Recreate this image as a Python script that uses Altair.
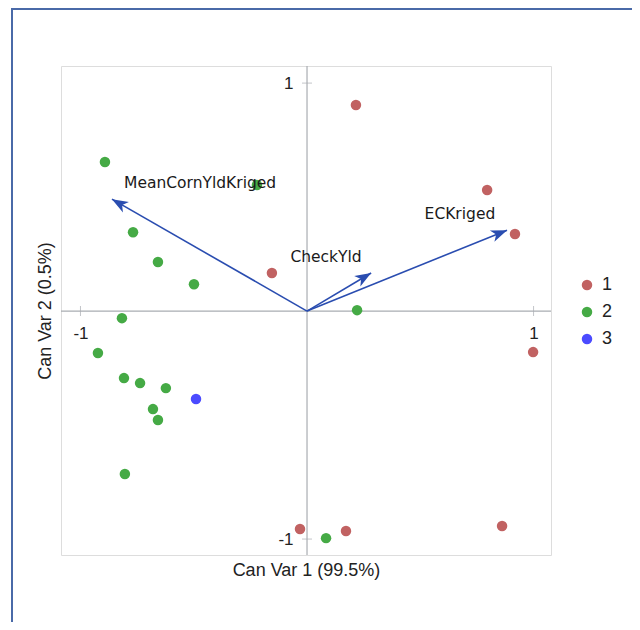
import altair as alt
import pandas as pd
import numpy as np

# Observations (canonical scores) by group
grp1_x = [0.216, 0.795, 0.918, -0.155, 0.998, -0.031, 0.172, 0.861]
grp1_y = [0.904, 0.531, 0.338, 0.167, -0.180, -0.956, -0.965, -0.943]
grp2_x = [-0.892, -0.221, -0.768, -0.658, -0.499, -0.817, 0.221, -0.923,
          -0.808, -0.737, -0.623, -0.680, -0.658, -0.804, 0.084]
grp2_y = [0.654, 0.553, 0.346, 0.215, 0.118, -0.031, 0.004, -0.184,
          -0.294, -0.316, -0.338, -0.430, -0.478, -0.715, -0.996]
grp3_x = [-0.490]
grp3_y = [-0.386]

# Variable vectors
vec_names = ["MeanCornYldKriged", "CheckYld", "ECKriged"]
vec_x = [-0.861, 0.283, 0.883]
vec_y = [0.491, 0.167, 0.355]
lab_x = [-0.472, 0.084, 0.675]
lab_y = [0.561, 0.237, 0.425]

groups = ["1", "2", "3"]
colors = ["#C16262", "#45AA45", "#4B4BFF"]

x_dom = [-1.086, 1.077]
y_dom = [-1.070, 1.075]
W, H = 490, 489

pts = pd.DataFrame({
    "x": grp1_x + grp2_x + grp3_x,
    "y": grp1_y + grp2_y + grp3_y,
    "g": ["1"] * len(grp1_x) + ["2"] * len(grp2_x) + ["3"] * len(grp3_x),
})

px_x = W / (x_dom[1] - x_dom[0])
px_y = H / (y_dom[1] - y_dom[0])
vec = pd.DataFrame({"name": vec_names, "vx": vec_x, "vy": vec_y,
                    "lx": lab_x, "ly": lab_y, "x0": 0.0, "y0": 0.0})
vec["ang"] = (np.degrees(np.arctan2(vec["vx"] * px_x, vec["vy"] * px_y)) + 360) % 360

xs = alt.Scale(domain=x_dom, nice=False, zero=False)
ys = alt.Scale(domain=y_dom, nice=False, zero=False)

AX_FONT = "Liberation Sans"
LBL = "datum.value < 0 ? '-' + abs(datum.value) : '' + datum.value"
x_axis = alt.Axis(values=[-1, 1], labelExpr=LBL, grid=False, domain=False, ticks=False, zindex=1,
                  offset=-(H - (0 - y_dom[0]) * px_y) * 1.0,
                  labelFontSize=17, labelFont=AX_FONT, labelColor="#222222", labelPadding=16,
                  title="Can Var 1 (99.5%)", titleFont=AX_FONT, titleFontSize=18,
                  titleFontWeight="normal", titleColor="#222222",
                  titleBaseline="middle", titleY=261)
y_axis = alt.Axis(values=[-1, 1], labelExpr=LBL, grid=False, domain=False, ticks=False, zindex=1,
                  offset=-((0 - x_dom[0]) * px_x),
                  labelFontSize=17, labelFont=AX_FONT, labelColor="#222222", labelPadding=14,
                  title="Can Var 2 (0.5%)", titleFont=AX_FONT, titleFontSize=18,
                  titleFontWeight="normal", titleColor="#222222",
                  titleBaseline="middle", titleAlign="center", titleAngle=270, titleX=-262)


def X(f):
    return alt.X(f, scale=xs, axis=x_axis)


def Y(f):
    return alt.Y(f, scale=ys, axis=y_axis)


zero = pd.DataFrame({"x": [0.0], "y": [0.0]})
zero_v = alt.Chart(zero).mark_rule(color="#A9ADB2", strokeWidth=1.2).encode(x=X("x:Q"))
zero_h = alt.Chart(zero).mark_rule(color="#A9ADB2", strokeWidth=1.2).encode(y=Y("y:Q"))

xt = pd.DataFrame({"x": [-1.0, 1.0], "y": [0.0, 0.0]})
yt = pd.DataFrame({"x": [0.0, 0.0], "y": [-1.0, 1.0]})
xticks = alt.Chart(xt).mark_tick(orient="vertical", size=10, thickness=1, color="#A9ADB2").encode(
    x=X("x:Q"), y=Y("y:Q"))
yticks = alt.Chart(yt).mark_tick(orient="horizontal", size=10, thickness=1, color="#A9ADB2").encode(
    x=X("x:Q"), y=Y("y:Q"))

points = alt.Chart(pts).mark_circle(size=110, opacity=1).encode(
    x=X("x:Q"), y=Y("y:Q"),
    color=alt.Color("g:N", scale=alt.Scale(domain=groups, range=colors),
                    legend=alt.Legend(title=None, orient="none", legendX=517, legendY=210,
                                      symbolType="circle", symbolSize=110,
                                      labelFontSize=18, labelFont=AX_FONT, labelColor="#222222",
                                      rowPadding=9, labelOffset=6, symbolStrokeWidth=0)))

arrows = alt.Chart(vec).mark_rule(color="#2A4DB0", strokeWidth=1.6).encode(
    x=X("x0:Q"), y=Y("y0:Q"), x2="vx:Q", y2="vy:Q")

heads = alt.Chart(vec).mark_point(
    shape="M0,0 L-0.75,2 L0,1.45 L0.75,2 Z", filled=True, opacity=1,
    size=260, color="#2A4DB0").encode(
    x=X("vx:Q"), y=Y("vy:Q"), angle=alt.Angle("ang:Q", scale=None))

labels = alt.Chart(vec).mark_text(font="DejaVu Sans", fontSize=15.5, color="#1a1a1a").encode(
    x=X("lx:Q"), y=Y("ly:Q"), text="name:N")

border = alt.Chart(zero).mark_rect(fillOpacity=0, stroke="#4A6AA8", strokeWidth=2).encode(
    x=alt.value(-49), x2=alt.value(W + 120), y=alt.value(-57), y2=alt.value(H + 120))

chart = alt.layer(border, zero_v, zero_h, xticks, yticks, arrows, heads, points, labels).properties(
    width=W, height=H,
    autosize=alt.AutoSizeParams(type="none"),
    padding={"left": 53, "top": 58, "right": 81, "bottom": 67},
).configure_view(stroke="#9A9A9A", strokeWidth=1.2).configure(background="white")

chart.save("out.html", embed_options={"renderer": "svg", "actions": False})
